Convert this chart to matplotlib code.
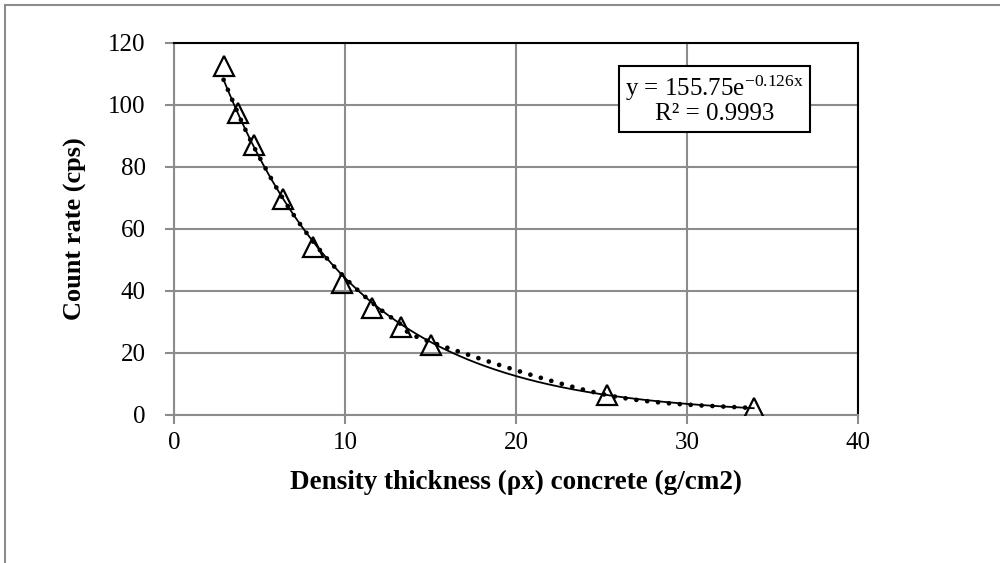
import numpy as np
import matplotlib
matplotlib.use("Agg")
import matplotlib.pyplot as plt
from matplotlib.lines import Line2D

# measured points (density thickness in g/cm2, count rate in cps)
thickness = [2.9, 3.75, 4.7, 6.4, 8.1, 9.8, 11.6, 13.3, 15.0, 25.3, 33.9]
count_rate = [112.5, 97.5, 87.0, 69.5, 54.0, 42.5, 34.5, 28.5, 22.5, 6.5, 2.3]

# exponential trendline from the chart label
fit_a = 155.75
fit_b = -0.126
r_squared = 0.9993

x_ticks = [0, 10, 20, 30, 40]
y_ticks = [0, 20, 40, 60, 80, 100, 120]

plt.rcParams['font.family'] = ['Liberation Serif', 'DejaVu Serif']
plt.rcParams['mathtext.fontset'] = 'custom'
plt.rcParams['mathtext.rm'] = 'Liberation Serif'
plt.rcParams['mathtext.it'] = 'Liberation Serif:italic'
grey = '#8c8c8c'

fig = plt.figure(figsize=(10, 5.63), dpi=100)
ax = fig.add_axes([0.174, 0.263, 0.684, 0.661])
ax.set_xlim(0, 40)
ax.set_ylim(0, 120)

x = np.array(thickness)
y_fit_pts = fit_a * np.exp(fit_b * x)


def smooth_line(ax, xs, ys, n=30):
    # Excel style smoothed line (Catmull-Rom through the points), done in pixels
    pts = ax.transData.transform(np.column_stack([xs, ys]))
    pts = np.vstack([pts[0], pts, pts[-1]])
    out = []
    for i in range(1, len(pts) - 2):
        p0, p1, p2, p3 = pts[i - 1], pts[i], pts[i + 1], pts[i + 2]
        c1 = p1 + (p2 - p0) / 6
        c2 = p2 - (p3 - p1) / 6
        t = np.linspace(0, 1, n)[:, None]
        seg = ((1 - t) ** 3 * p1 + 3 * (1 - t) ** 2 * t * c1
               + 3 * (1 - t) * t ** 2 * c2 + t ** 3 * p2)
        out.append(seg if i == 1 else seg[1:])
    out = np.vstack(out)
    return ax.transData.inverted().transform(out).T


# dotted: trend values at the measured thicknesses, smoothed
sx, sy = smooth_line(ax, x, y_fit_pts)
ax.plot(sx, sy, color='black', lw=3.4, linestyle=(0, (0.01, 2.3)),
        dash_capstyle='round', zorder=3)

# solid: exponential trendline
xs = np.linspace(x.min(), x.max(), 300)
ax.plot(xs, fit_a * np.exp(fit_b * xs), color='black', lw=1.3, zorder=3)

ax.plot(thickness, count_rate, linestyle='none', marker='^', markersize=14,
        mfc='none', mec='black', mew=1.6, zorder=4)

ax.set_xticks(x_ticks)
ax.set_yticks(y_ticks)
ax.grid(True, color=grey, lw=1.5)
ax.set_axisbelow(True)
for side in ['top', 'right']:
    ax.spines[side].set_color('black')
    ax.spines[side].set_linewidth(1.5)
for side in ['left', 'bottom']:
    ax.spines[side].set_color(grey)
    ax.spines[side].set_linewidth(1.5)
ax.tick_params(axis='both', direction='out', length=6.5, width=1.5, color=grey,
               labelsize=18)
ax.tick_params(axis='y', pad=14)
ax.tick_params(axis='x', pad=6)

ax.set_xlabel('Density thickness (\u03c1x) concrete (g/cm2)', fontsize=19.5,
              fontweight='bold', labelpad=11)
ax.set_ylabel('Count rate (cps)', fontsize=19, fontweight='bold', labelpad=15)

eq = f'y = {fit_a}e$^{{\\mathrm{{{fit_b}x}}}}$\nR\u00b2 = {r_squared}'
ax.text(0.79, 0.847, eq, transform=ax.transAxes, ha='center', va='center',
        fontsize=18, linespacing=1.0, zorder=5,
        bbox=dict(boxstyle='square,pad=0.25', fc='white', ec='black', lw=1.5))

# outer chart border (left and top only visible)
fig.add_artist(Line2D([0.005, 0.005], [0, 0.991], color=grey, lw=1.5))
fig.add_artist(Line2D([0.005, 1.0], [0.991, 0.991], color=grey, lw=1.5))

fig.savefig('out.png')
